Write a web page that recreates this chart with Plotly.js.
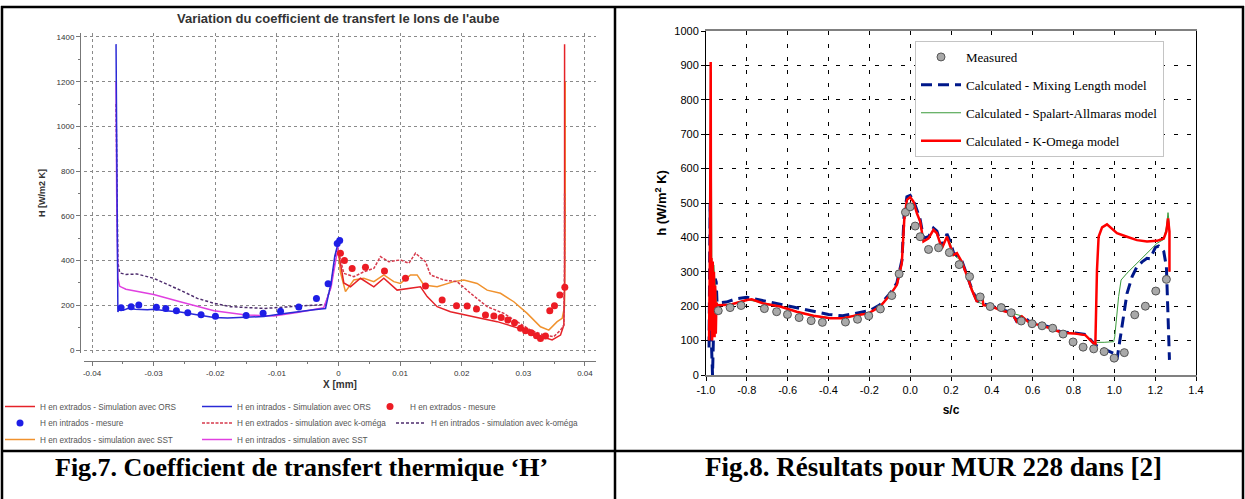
<!DOCTYPE html>
<html>
<head>
<meta charset="utf-8">
<script src="https://cdn.plot.ly/plotly-3.0.1.min.js"></script>
<style>
html,body{margin:0;padding:0;background:#fff;}
#chart{width:1245px;height:499px;}
</style>
</head>
<body>
<div id="chart"></div>
<script>
// ---------------- Fig.7 (left) data ----------------
const intradosOrsX = [-0.0361, -0.0360, -0.0358, -0.0355, -0.0349, -0.0340, -0.0330, -0.0310, -0.0300, -0.0280, -0.0257, -0.0230, -0.0202, -0.0180, -0.0150, -0.0121, -0.0094, -0.0067, -0.0040, -0.0021, -0.0012, -0.0006, 0.0];
const intradosOrsH = [1368, 900, 170, 190, 178, 188, 182, 180, 182, 176, 170, 158, 146, 143, 145, 150, 161, 172, 180, 186, 300, 420, 485];

const intradosSstX = [-0.0361, -0.0360, -0.0358, -0.0355, -0.0345, -0.0332, -0.0300, -0.0257, -0.0202, -0.0150, -0.0105, -0.0067, -0.0024, -0.0012, -0.0005, 0.0];
const intradosSstH = [1200, 700, 320, 285, 272, 265, 248, 216, 176, 157, 152, 168, 189, 280, 400, 470];

const intradosKoX = [-0.0361, -0.0360, -0.0358, -0.0355, -0.0345, -0.0327, -0.0300, -0.0257, -0.0229, -0.0202, -0.0175, -0.0121, -0.0067, -0.0021, -0.0012, -0.0005, 0.0];
const intradosKoH = [1100, 800, 390, 345, 338, 340, 321, 268, 231, 209, 194, 186, 194, 204, 290, 420, 480];

const intradosMesX = [-0.03528, -0.03365, -0.03241, -0.02955, -0.02803, -0.0263, -0.02446, -0.0223, -0.01997, -0.01499, -0.01223, -0.0094, -0.00644, -0.00357, -0.00168, -0.0002, 0.0002];
const intradosMesH = [189, 194, 201, 191, 186, 176, 167, 158, 151, 155, 164, 173, 192, 231, 297, 477, 490];

const extradosMesX = [0.00032, 0.00097, 0.00222, 0.00438, 0.00747, 0.01088, 0.01412, 0.01683, 0.01916, 0.02089, 0.0224, 0.02386, 0.02522, 0.02641, 0.02749, 0.02857, 0.02955, 0.03036, 0.03128, 0.03214, 0.03279, 0.0336, 0.0343, 0.03506, 0.03593, 0.03674];
const extradosMesH = [433, 400, 365, 370, 353, 321, 286, 224, 198, 197, 183, 157, 152, 146, 134, 122, 97, 86, 77, 64, 52, 63, 176, 198, 246, 281];

const extradosKoX = [0.0, 0.00087, 0.00249, 0.00411, 0.00574, 0.00682, 0.00817, 0.01006, 0.01142, 0.0125, 0.01412, 0.01494, 0.0171, 0.01926, 0.02143, 0.02413, 0.02684, 0.029, 0.03117, 0.03333, 0.03495, 0.03604, 0.03658, 0.0367, 0.0367];
const extradosKoH = [440, 343, 328, 350, 365, 418, 395, 403, 388, 433, 395, 336, 313, 306, 254, 194, 164, 127, 89, 67, 60, 89, 112, 400, 700];

const extradosOrsX = [0.0, 0.00087, 0.00195, 0.00357, 0.00574, 0.00736, 0.00952, 0.01169, 0.01331, 0.0144, 0.01602, 0.01818, 0.02035, 0.02305, 0.02576, 0.02846, 0.03117, 0.03333, 0.03468, 0.03604, 0.03658, 0.0367, 0.0367];
const extradosOrsH = [440, 300, 283, 321, 283, 321, 268, 276, 283, 239, 194, 171, 157, 142, 127, 104, 82, 57, 45, 67, 112, 300, 1368];

const extradosSstX = [0.0, 0.0003, 0.00114, 0.00249, 0.00411, 0.00574, 0.00736, 0.00898, 0.01006, 0.01169, 0.01277, 0.01385, 0.01602, 0.01872, 0.02035, 0.02251, 0.02413, 0.0263, 0.02846, 0.03063, 0.03279, 0.03414, 0.0355, 0.03631, 0.03669, 0.0368, 0.0368];
const extradosSstH = [440, 350, 261, 313, 321, 306, 336, 306, 298, 336, 336, 291, 283, 306, 313, 298, 268, 254, 216, 164, 104, 89, 127, 142, 194, 600, 1200];

const leftXTicks = [-0.04, -0.03, -0.02, -0.01, 0, 0.01, 0.02, 0.03, 0.04];
const leftXTickText = ['-0.04', '-0.03', '-0.02', '-0.01', '0', '0.01', '0.02', '0.03', '0.04'];
const leftYTicks = [0, 200, 400, 600, 800, 1000, 1200, 1400];

// ---------------- Fig.8 (right) data ----------------
const measuredS = [-0.940, -0.882, -0.828, -0.714, -0.654, -0.601, -0.544, -0.485, -0.430, -0.317, -0.258, -0.203, -0.146, -0.090, -0.054, -0.023, 0.000, 0.0245, 0.049, 0.090, 0.139, 0.192, 0.240, 0.291, 0.343, 0.392, 0.446, 0.495, 0.544, 0.597, 0.646, 0.698, 0.749, 0.798, 0.847, 0.899, 0.950, 0.999, 1.049, 1.100, 1.152, 1.203, 1.255];
const measuredH = [187, 196, 202, 193, 184, 176, 167, 158, 153, 154, 162, 172, 192, 231, 294, 473, 489, 433, 402, 365, 370, 356, 321, 286, 227, 199, 196, 181, 157, 149, 143, 136, 119, 96, 81, 76, 68, 49, 65, 175, 200, 244, 278];

const mixingS = [-0.985, -0.980, -0.975, -0.968, -0.962, -0.955, -0.950, -0.946, -0.90, -0.85, -0.80, -0.75, -0.70, -0.60, -0.50, -0.40, -0.33, -0.26, -0.20, -0.15, -0.10, -0.065, -0.04, -0.03, -0.016, 0.0, 0.016, 0.033, 0.049, 0.065, 0.09, 0.114, 0.131, 0.155, 0.18, 0.196, 0.212, 0.253, 0.302, 0.327, 0.36, 0.40, 0.44, 0.50, 0.52, 0.55, 0.59, 0.64, 0.69, 0.74, 0.80, 0.86, 0.907, 0.95, 0.997, 1.013, 1.038, 1.062, 1.087, 1.111, 1.136, 1.16, 1.176, 1.201, 1.217, 1.242, 1.255, 1.261, 1.266, 1.270];
const mixingH = [80, 500, 120, 0, 150, 280, 270, 210, 212, 222, 226, 220, 212, 202, 188, 176, 172, 180, 187, 203, 236, 268, 335, 462, 518, 522, 507, 480, 452, 398, 402, 427, 418, 372, 410, 388, 356, 332, 250, 216, 206, 201, 191, 181, 158, 172, 152, 147, 138, 125, 123, 118, 87, 75, 63, 45, 140, 237, 286, 315, 329, 339, 338, 371, 375, 359, 315, 228, 131, 44];

const spalartS = [-0.985, -0.978, -0.975, -0.970, -0.962, -0.955, -0.948, -0.944, -0.88, -0.80, -0.72, -0.64, -0.56, -0.47, -0.39, -0.33, -0.26, -0.20, -0.15, -0.10, -0.065, -0.04, -0.03, -0.016, 0.0, 0.016, 0.033, 0.049, 0.065, 0.09, 0.114, 0.131, 0.155, 0.18, 0.196, 0.212, 0.253, 0.286, 0.327, 0.36, 0.40, 0.44, 0.50, 0.55, 0.59, 0.64, 0.69, 0.74, 0.80, 0.86, 0.907, 0.915, 0.95, 0.997, 1.002, 1.021, 1.033, 1.062, 1.111, 1.160, 1.209, 1.242, 1.255, 1.263, 1.270, 1.270];
const spalartH = [100, 400, 880, 120, 320, 260, 210, 204, 205, 219, 209, 200, 185, 173, 166, 166, 175, 180, 200, 234, 263, 326, 452, 510, 518, 505, 471, 447, 389, 398, 423, 413, 369, 403, 384, 350, 330, 277, 214, 204, 200, 190, 180, 171, 151, 146, 137, 124, 122, 117, 88, 95, 95, 97, 111, 228, 276, 296, 325, 354, 383, 394, 431, 472, 436, 300];

const komegaS = [-0.985, -0.980, -0.977, -0.975, -0.973, -0.970, -0.967, -0.964, -0.961, -0.958, -0.955, -0.952, -0.949, -0.944, -0.882, -0.80, -0.776, -0.719, -0.637, -0.556, -0.474, -0.392, -0.327, -0.261, -0.204, -0.147, -0.098, -0.065, -0.041, -0.029, -0.016, 0.0, 0.016, 0.033, 0.049, 0.065, 0.090, 0.114, 0.131, 0.155, 0.180, 0.196, 0.212, 0.229, 0.253, 0.286, 0.302, 0.327, 0.351, 0.359, 0.400, 0.441, 0.498, 0.523, 0.547, 0.588, 0.637, 0.686, 0.744, 0.800, 0.858, 0.907, 0.915, 0.923, 0.940, 0.964, 0.989, 1.013, 1.062, 1.111, 1.160, 1.209, 1.242, 1.255, 1.263, 1.270, 1.270];
const komegaH = [100, 420, 910, 130, 340, 100, 330, 150, 300, 110, 260, 120, 210, 203, 204, 218, 220, 208, 199, 184, 172, 165, 165, 174, 179, 199, 233, 262, 325, 451, 509, 517, 504, 470, 446, 388, 397, 422, 412, 368, 402, 375, 349, 354, 329, 276, 247, 213, 233, 203, 199, 189, 179, 155, 170, 150, 145, 136, 123, 121, 116, 87, 305, 402, 429, 438, 426, 412, 402, 392, 388, 390, 397, 417, 455, 417, 300];

const rightXTicks = [-1.0, -0.8, -0.6, -0.4, -0.2, 0.0, 0.2, 0.4, 0.6, 0.8, 1.0, 1.2, 1.4];
const rightXTickText = ['-1.0', '-0.8', '-0.6', '-0.4', '-0.2', '0.0', '0.2', '0.4', '0.6', '0.8', '1.0', '1.2', '1.4'];
const rightYTicks = [0, 100, 200, 300, 400, 500, 600, 700, 800, 900, 1000];

// ---------------- layout helpers (pixel -> paper) ----------------
const W = 1245, H = 499;
const px = v => v / W;
const py = v => 1 - v / H;
const SANS = 'Liberation Sans, Arial, sans-serif';
const SERIF = 'Liberation Serif, Times New Roman, serif';

function leftLine(name, x, y, color, legend, rank, lw, dash) {
  return {type: 'scatter', mode: 'lines', name: name, x: x, y: y, xaxis: 'x', yaxis: 'y',
    line: {color: color, width: 1.5, dash: dash || 'solid'}, legend: legend, legendrank: rank, legendwidth: lw};
}
function leftPts(name, x, y, color, legend, rank, lw) {
  return {type: 'scatter', mode: 'markers', name: name, x: x, y: y, xaxis: 'x', yaxis: 'y',
    marker: {color: color, size: 7, symbol: 'circle'}, legend: legend, legendrank: rank, legendwidth: lw};
}

const traces = [
  leftLine('H en extrados - simulation avec SST', extradosSstX, extradosSstH, '#f0922e', 'legend3', 1, 152),
  leftLine('H en extrados - Simulation avec ORS', extradosOrsX, extradosOrsH, '#e52228', 'legend', 1, 152),
  leftLine('H en extrados - simulation avec k-oméga', extradosKoX, extradosKoH, '#d63a4c', 'legend2', 2, 149, '3px,1.5px'),
  leftLine('H en intrados - simulation avec k-oméga', intradosKoX, intradosKoH, '#4e2d6e', 'legend2', 3, 149, '3px,2px'),
  leftLine('H en intrados - simulation avec SST', intradosSstX, intradosSstH, '#e040e0', 'legend3', 2, 152),
  leftLine('H en intrados - Simulation avec ORS', intradosOrsX, intradosOrsH, '#2a2ad6', 'legend', 2, 128),
  leftPts('H en extrados - mesure', extradosMesX, extradosMesH, '#ec1c24', 'legend', 3, 128),
  leftPts('H en intrados - mesure', intradosMesX, intradosMesH, '#1e1ee6', 'legend2', 1, 152),

  {type: 'scatter', mode: 'lines', name: 'Calculated - Mixing Length model', x: mixingS, y: mixingH,
    xaxis: 'x2', yaxis: 'y2', line: {color: '#00188a', width: 3, dash: '11px,6px'},
    legend: 'legend4', legendrank: 2, legendgroup: 'g2'},
  {type: 'scatter', mode: 'lines', name: 'Calculated - Spalart-Allmaras model', x: spalartS, y: spalartH,
    xaxis: 'x2', yaxis: 'y2', line: {color: '#3a9a3a', width: 1},
    legend: 'legend4', legendrank: 3, legendgroup: 'g3'},
  {type: 'scatter', mode: 'lines', name: 'Calculated - K-Omega model', x: komegaS, y: komegaH,
    xaxis: 'x2', yaxis: 'y2', line: {color: '#ff0000', width: 2.5},
    legend: 'legend4', legendrank: 4, legendgroup: 'g4'},
  {type: 'scatter', mode: 'markers', name: 'Measured', x: measuredS, y: measuredH,
    xaxis: 'x2', yaxis: 'y2', marker: {color: '#a9a9a9', size: 8, line: {color: '#555', width: 1}},
    legend: 'legend4', legendrank: 1, legendgroup: 'g1'}
];

const leftLegendBase = {orientation: 'h', x: 0, xanchor: 'left', yanchor: 'middle',
  font: {family: SANS, size: 8.2, color: '#555'}, bgcolor: 'rgba(0,0,0,0)', itemwidth: 30, traceorder: 'normal'};

const border = {color: '#000', width: 2.5};
const shapes = [
  {type: 'line', xref: 'paper', yref: 'paper', x0: px(1), x1: px(1244), y0: py(7), y1: py(7), line: border},
  {type: 'line', xref: 'paper', yref: 'paper', x0: px(2), x1: px(2), y0: py(6), y1: py(499), line: border},
  {type: 'line', xref: 'paper', yref: 'paper', x0: px(615), x1: px(615), y0: py(6), y1: py(499), line: border},
  {type: 'line', xref: 'paper', yref: 'paper', x0: px(1243), x1: px(1243), y0: py(6), y1: py(499), line: border},
  {type: 'line', xref: 'paper', yref: 'paper', x0: px(1), x1: px(1244), y0: py(451), y1: py(451), line: border}
];

const layout = {
  width: W, height: H,
  margin: {l: 0, r: 0, t: 0, b: 0},
  paper_bgcolor: '#fff', plot_bgcolor: '#fff',
  showlegend: true,
  hovermode: false,
  font: {family: SANS, color: '#333'},
  xaxis: {
    domain: [px(84), px(596)], range: [-0.0413, 0.0418], anchor: 'free', position: py(361),
    showline: true, linecolor: '#777', linewidth: 1,
    ticks: 'outside', ticklen: 4, tickcolor: '#777',
    tickmode: 'array', tickvals: leftXTicks, ticktext: leftXTickText,
    tickfont: {family: SANS, size: 8, color: '#333'},
    minor: {dtick: 0.005, tick0: 0, ticks: 'outside', ticklen: 2, tickcolor: '#777', showgrid: false},
    showgrid: true, gridcolor: '#8a8a8a', griddash: 'dot', gridwidth: 1, zeroline: false,
    title: {text: '<b>X [mm]</b>', font: {family: SANS, size: 10, color: '#333'}, standoff: 4}
  },
  yaxis: {
    domain: [py(353.4), py(32.5)], range: [-15, 1420], anchor: 'free', position: px(80),
    showline: true, linecolor: '#777', linewidth: 1,
    ticks: 'outside', ticklen: 4, tickcolor: '#777',
    tickmode: 'array', tickvals: leftYTicks,
    tickfont: {family: SANS, size: 8, color: '#333'},
    minor: {dtick: 100, tick0: 0, ticks: 'outside', ticklen: 2, tickcolor: '#777', showgrid: false},
    showgrid: true, gridcolor: '#8a8a8a', griddash: 'dot', gridwidth: 1, zeroline: false,
    title: {text: '<b>H [W/m2 K]</b>', font: {family: SANS, size: 9, color: '#333'}, standoff: 8}
  },
  xaxis2: {
    domain: [px(706), px(1196)], range: [-1.0, 1.4], anchor: 'y2',
    showline: true, linecolor: '#808080', linewidth: 2, mirror: true,
    ticks: 'outside', ticklen: 4, tickcolor: '#000',
    tickmode: 'array', tickvals: rightXTicks, ticktext: rightXTickText,
    tickfont: {family: SANS, size: 11, color: '#000'},
    showgrid: true, gridcolor: '#000', griddash: '4px,9px', gridwidth: 1, zeroline: false,
    title: {text: '<b>s/c</b>', font: {family: SANS, size: 12, color: '#000'}, standoff: 10}
  },
  yaxis2: {
    domain: [py(375), py(31)], range: [0, 1000], anchor: 'x2',
    showline: true, linecolor: '#000', linewidth: 1, mirror: true,
    ticks: 'outside', ticklen: 4, tickcolor: '#000',
    tickmode: 'array', tickvals: rightYTicks,
    tickfont: {family: SANS, size: 11, color: '#000'},
    showgrid: true, gridcolor: '#000', griddash: '4px,9px', gridwidth: 1, zeroline: false,
    title: {text: '<b>h (W/m<sup>2</sup> K)</b>', font: {family: SANS, size: 13, color: '#000'}, standoff: 4}
  },
  legend: Object.assign({}, leftLegendBase, {y: py(406.5)}),
  legend2: Object.assign({}, leftLegendBase, {y: py(423)}),
  legend3: Object.assign({}, leftLegendBase, {y: py(439.5)}),
  legend4: {
    x: px(915), xanchor: 'left', y: py(41), yanchor: 'top', orientation: 'v',
    bgcolor: '#fff', bordercolor: '#c4c4c4', borderwidth: 1,
    font: {family: SERIF, size: 13, color: '#000'}, itemwidth: 40, tracegroupgap: 8,
    traceorder: 'grouped'
  },
  annotations: [
    {xref: 'paper', yref: 'paper', x: px(338), y: py(18), xanchor: 'center', yanchor: 'middle', showarrow: false,
      text: "<b>Variation du coefficient de transfert le lons de l'aube</b>",
      font: {family: SANS, size: 13, color: '#333'}},
    {xref: 'paper', yref: 'paper', x: px(301), y: py(467), xanchor: 'center', yanchor: 'middle', showarrow: false,
      text: '<b>Fig.7. Coefficient de transfert thermique ‘H’</b>',
      font: {family: SERIF, size: 26, color: '#000'}},
    {xref: 'paper', yref: 'paper', x: px(933), y: py(467), xanchor: 'center', yanchor: 'middle', showarrow: false,
      text: '<b>Fig.8. Résultats pour MUR 228 dans [2]</b>',
      font: {family: SERIF, size: 27, color: '#000'}}
  ],
  shapes: shapes
};

Plotly.newPlot('chart', traces, layout, {staticPlot: true, displayModeBar: false});
</script>
</body>
</html>
